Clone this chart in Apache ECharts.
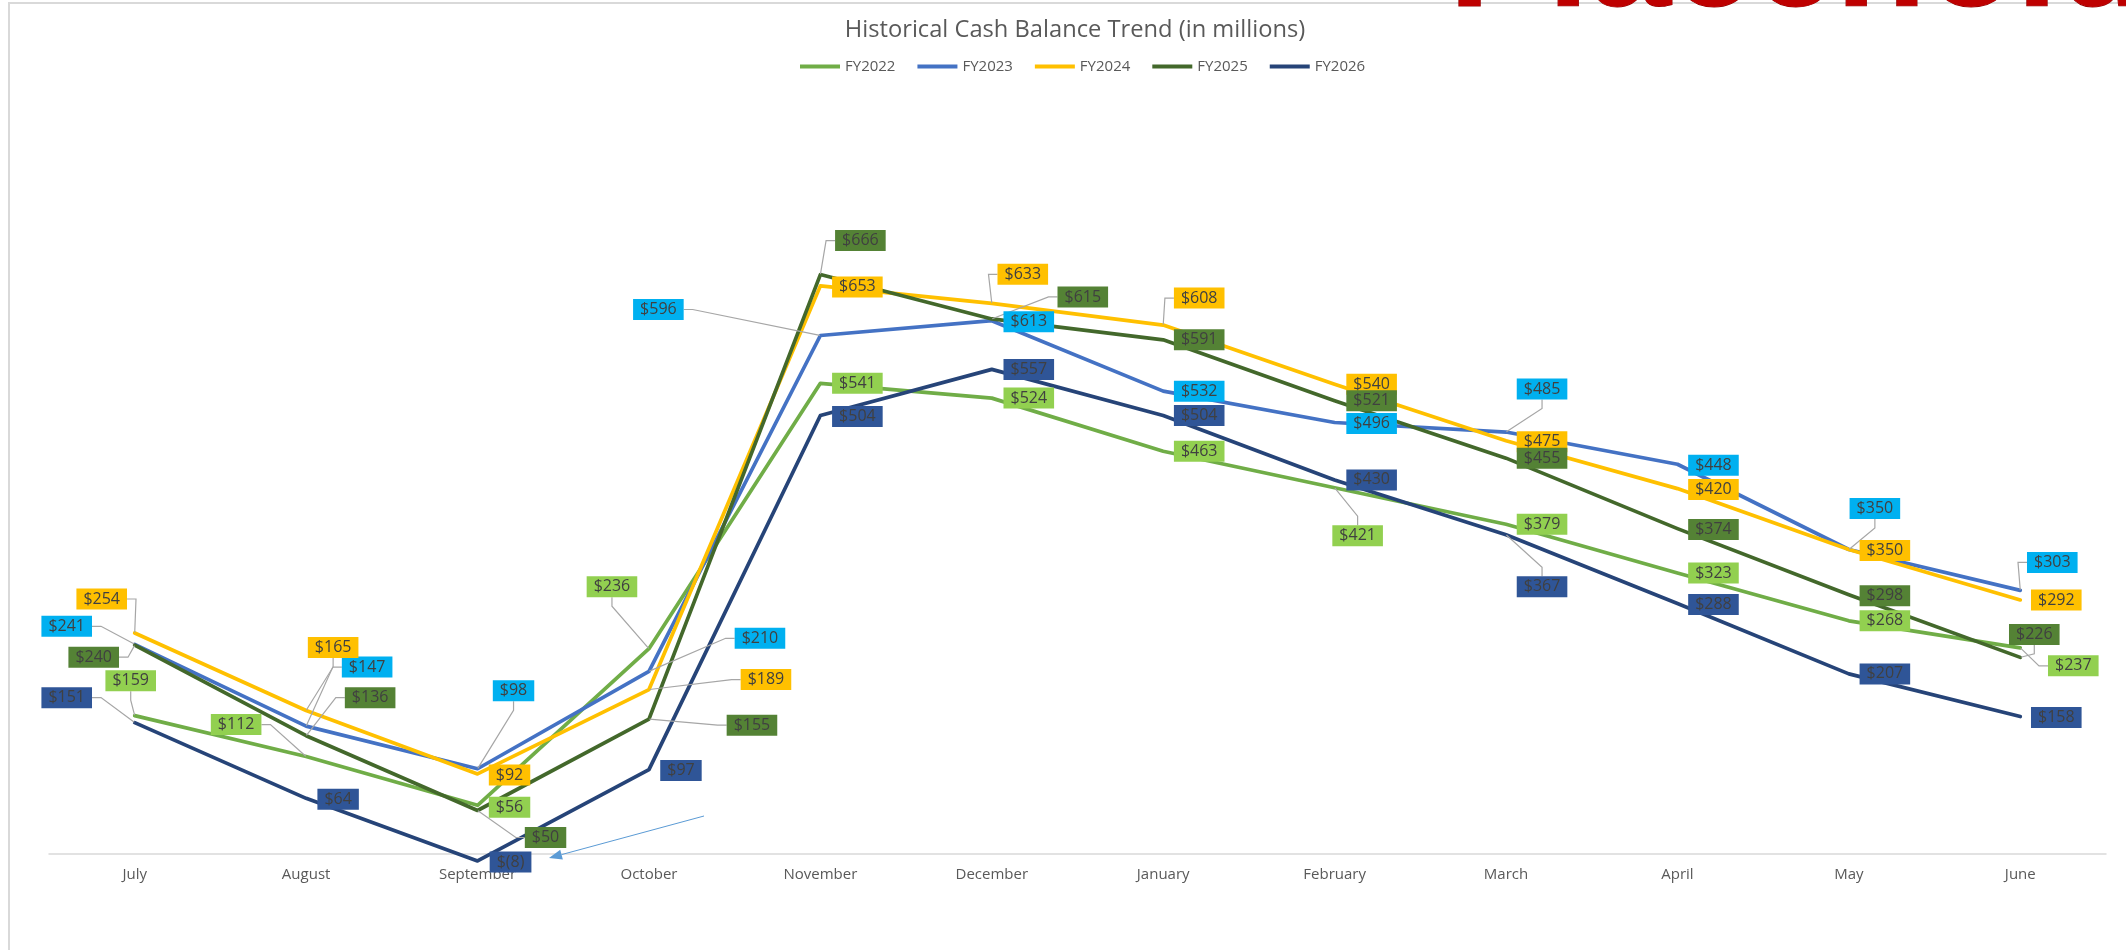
<!DOCTYPE html>
<html>
<head>
<meta charset="utf-8">
<title>Historical Cash Balance Trend</title>
<script src="https://cdn.jsdelivr.net/npm/echarts@6/dist/echarts.min.js"></script>
<style>
  html, body { margin: 0; padding: 0; background: #ffffff; }
  #chart { width: 2126px; height: 950px; }
</style>
</head>
<body>
<div id="chart"></div>
<script>
// Fiscal-year months, July through June
const months = ['July', 'August', 'September', 'October', 'November', 'December',
                'January', 'February', 'March', 'April', 'May', 'June'];

// Month-end cash balance, in millions
const fy2022 = [159, 112, 56, 236, 541, 524, 463, 421, 379, 323, 268, 237];
const fy2023 = [241, 147, 98, 210, 596, 613, 532, 496, 485, 448, 350, 303];
const fy2024 = [254, 165, 92, 189, 653, 633, 608, 540, 475, 420, 350, 292];
const fy2025 = [240, 136, 50, 155, 666, 615, 591, 521, 455, 374, 298, 226];
const fy2026 = [151, 64, -8, 97, 504, 557, 504, 430, 367, 288, 207, 158];

const seriesNames = ['FY2022', 'FY2023', 'FY2024', 'FY2025', 'FY2026'];
const seriesValues = [fy2022, fy2023, fy2024, fy2025, fy2026];

// Styling per series: line colour and value-box colour
const lineColors = ['#70AD47', '#4472C4', '#FFC000', '#43682B', '#264478'];
const boxColors = ['#92D050', '#00B0F0', '#FFC000', '#548235', '#2F5597'];

// Callout placement: offset (px) of each value box centre from its point
const labelOffsets = [
  [[-4, -35], [-70, -32], [32, 2], [-37, -62], [37, 0], [37, 0], [36, 0], [23, 48], [36, 0], [36, 0], [36, 0], [53, 18]],
  [[-68, -18], [61, -59], [36, -78], [111, -33], [-162, -26], [37, 1], [36, 0], [37, 1], [36, -43], [36, 1], [26, -41], [32, -28]],
  [[-33, -34], [27, -63], [32, 1], [117, -10], [37, 1], [31, -29], [36, -27], [37, 0], [36, 1], [36, 1], [36, 1], [36, 0]],
  [[-41, 12], [64, -38], [68, 27], [103, 6], [40, -34], [91, -22], [36, 0], [37, 0], [36, 0], [36, 1], [36, 1], [14, -23]],
  [[-68, -25], [32, 1], [33, 1], [32, 1], [37, 1], [37, 0], [36, 0], [37, 0], [36, 52], [36, 1], [36, 0], [36, 1]]
];

const FONT = "'Open Sans', 'Liberation Sans', sans-serif";

function money(v) {
  return v < 0 ? '$(' + (-v) + ')' : '$' + v;
}

function needsLeader(off) {
  return Math.abs(off[1]) > 6 || off[0] < 0 || off[0] > 45;
}

const lineSeries = seriesNames.map((name, s) => ({
  type: 'line',
  name: name,
  data: seriesValues[s],
  showSymbol: false,
  symbol: 'none',
  silent: true,
  clip: false,
  z: 2,
  itemStyle: { color: lineColors[s] },
  lineStyle: { color: lineColors[s], width: 3.7, join: 'round', cap: 'round' }
}));

// Value boxes drawn above every line, with grey leader lines where moved
const labelSeries = seriesNames.map((name, s) => {
  const offs = labelOffsets[s];
  return {
    type: 'scatter',
    name: name + ' values',
    silent: true,
    clip: false,
    z: 4,
    symbol: 'circle',
    symbolSize: 1,
    itemStyle: { color: 'rgba(0,0,0,0)', opacity: 1 },
    label: {
      show: true,
      position: 'inside',
      opacity: 1,
      formatter: p => money(p.value[1]),
      backgroundColor: boxColors[s],
      color: '#404040',
      fontFamily: FONT,
      fontSize: 16,
      lineHeight: 16,
      padding: [3, 7, 2, 7]
    },
    labelLine: {
      show: false,
      length2: 9,
      lineStyle: { color: '#A6A6A6', width: 1.2, opacity: 1 }
    },
    labelLayout: p => {
      const off = offs[p.dataIndex];
      return {
        x: p.rect.x + p.rect.width / 2 + off[0],
        y: p.rect.y + p.rect.height / 2 + off[1],
        align: 'center',
        verticalAlign: 'middle'
      };
    },
    data: seriesValues[s].map((v, i) => ({
      value: [months[i], v],
      labelLine: { show: needsLeader(offs[i]) }
    }))
  };
});

// Annotation arrow pointing at the September low
const arrowFrom = [704, 816];
const arrowTip = [549, 858];
const adx = arrowTip[0] - arrowFrom[0], ady = arrowTip[1] - arrowFrom[1];
const alen = Math.sqrt(adx * adx + ady * ady);
const ux = adx / alen, uy = ady / alen;
const headLen = 13, headHalf = 5;
const baseX = arrowTip[0] - ux * headLen, baseY = arrowTip[1] - uy * headLen;

const chart = echarts.init(document.getElementById('chart'), null, { renderer: 'canvas' });

chart.setOption({
  animation: false,
  backgroundColor: '#ffffff',
  title: {
    text: 'Historical Cash Balance Trend (in millions)',
    left: 1070,
    textAlign: 'center',
    top: 13,
    textStyle: { fontFamily: FONT, fontSize: 23.7, fontWeight: 'normal', color: '#595959' }
  },
  legend: {
    data: seriesNames,
    left: 795,
    top: 54,
    icon: 'rect',
    itemWidth: 40,
    itemHeight: 4,
    itemGap: 22,
    textStyle: { fontFamily: FONT, fontSize: 15, color: '#595959' }
  },
  grid: { left: 49, right: 20, top: 158, bottom: 96, containLabel: false, outerBoundsMode: 'none' },
  xAxis: {
    type: 'category',
    data: months,
    boundaryGap: true,
    axisLine: { show: true, onZero: true, lineStyle: { color: '#D9D9D9', width: 1.5 } },
    axisTick: { show: false },
    axisLabel: { fontFamily: FONT, fontSize: 15, color: '#595959', margin: 13 },
    splitLine: { show: false }
  },
  yAxis: {
    type: 'value',
    min: 0,
    max: 800,
    show: false,
    splitLine: { show: false }
  },
  series: lineSeries.concat(labelSeries),
  graphic: [
    {
      type: 'rect',
      silent: true,
      z: -10,
      shape: { x: 9, y: 3, width: 2300, height: 1100 },
      style: { fill: 'none', stroke: '#D9D9D9', lineWidth: 2 }
    },
    {
      type: 'text',
      silent: true,
      z: 10,
      x: 1449,
      y: -35,
      style: {
        text: 'Placeholder',
        fontFamily: "'Liberation Sans', Arial, sans-serif",
        fontWeight: 'bold',
        fontSize: 148,
        verticalAlign: 'middle',
        fill: '#BE0000',
        stroke: '#8C0000',
        lineWidth: 1
      }
    },
    {
      type: 'line',
      silent: true,
      z: 10,
      shape: { x1: arrowFrom[0], y1: arrowFrom[1], x2: baseX, y2: baseY },
      style: { stroke: '#5B9BD5', lineWidth: 1 }
    },
    {
      type: 'polygon',
      silent: true,
      z: 10,
      shape: {
        points: [
          arrowTip,
          [baseX - uy * headHalf, baseY + ux * headHalf],
          [baseX + uy * headHalf, baseY - ux * headHalf]
        ]
      },
      style: { fill: '#5B9BD5' }
    }
  ]
});
</script>
</body>
</html>
